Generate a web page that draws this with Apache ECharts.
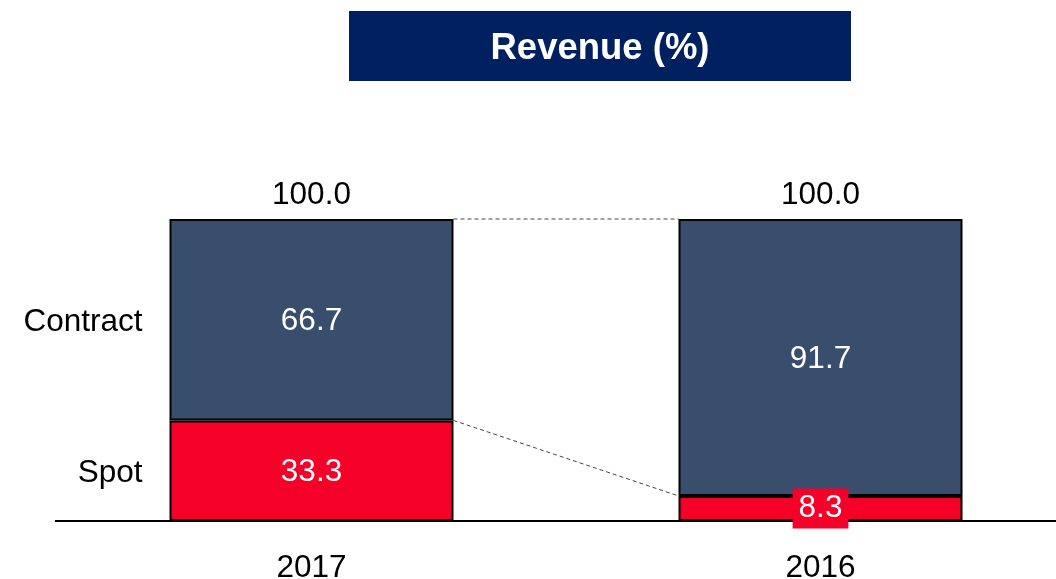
<!DOCTYPE html>
<html>
<head>
<meta charset="utf-8">
<script src="https://cdn.jsdelivr.net/npm/echarts@6/dist/echarts.min.js"></script>
<style>
html,body{margin:0;padding:0;background:#fff;}
#c{width:1056px;height:579px;}
</style>
</head>
<body>
<div id="c"></div>
<script>
const categories = ['2017', '2016'];
const spot = [33.3, 8.3];
const contract = [66.7, 91.7];
const totals = [100.0, 100.0];
const seriesNames = ['Spot', 'Contract'];
const titleText = 'Revenue (%)';

const FONT = "'Liberation Sans', Arial, sans-serif";
const FS = 31.5;
const BAR_W = 284;
const C_CONTRACT = '#394E6D';
const C_SPOT = '#F50028';

const connectors = [];
for (let i = 0; i < categories.length - 1; i++) {
  connectors.push([i, i + 1, totals[i], totals[i + 1]]);
  connectors.push([i, i + 1, spot[i], spot[i + 1]]);
}

const chart = echarts.init(document.getElementById('c'), null, {renderer: 'canvas'});
chart.setOption({
  animation: false,
  backgroundColor: '#ffffff',
  grid: {left: 311.5, right: 235.5, top: 219, bottom: 58, containLabel: false, outerBoundsMode: 'none'},
  xAxis: {
    type: 'category',
    data: categories,
    boundaryGap: false,
    axisLine: {show: false},
    axisTick: {show: false},
    splitLine: {show: false},
    axisLabel: {color: '#000', fontSize: FS, fontFamily: FONT, margin: 31}
  },
  yAxis: {type: 'value', min: 0, max: 100, show: false, splitLine: {show: false}},
  series: [
    {
      name: seriesNames[0], type: 'bar', stack: 'a', barWidth: BAR_W, barGap: '-100%',
      data: spot.map(v => (v < 15
        ? {value: v, label: {backgroundColor: C_SPOT, padding: [6, 6, 2, 6], offset: [0, 0]}}
        : v)),
      itemStyle: {color: C_SPOT, borderColor: '#000', borderWidth: 2},
      label: {
        show: true, position: 'inside', color: '#fff', fontSize: FS, fontFamily: FONT, offset: [0, 2],
        formatter: p => p.value.toFixed(1)
      },
      z: 3
    },
    {
      name: seriesNames[1], type: 'bar', stack: 'a', barWidth: BAR_W,
      data: contract,
      itemStyle: {color: C_CONTRACT, borderColor: '#000', borderWidth: 2},
      label: {
        show: true, position: 'inside', color: '#fff', fontSize: FS, fontFamily: FONT, offset: [0, 2],
        formatter: p => p.value.toFixed(1)
      },
      z: 3
    },
    {
      name: seriesNames[0] + '_lbl', type: 'bar', stack: 'b', barWidth: BAR_W,
      data: spot.map((v, i) => ({value: v, label: {show: i === 0}})),
      itemStyle: {color: 'rgba(0,0,0,0)', borderWidth: 0},
      label: {position: 'left', distance: 27, color: '#000', fontSize: FS, fontFamily: FONT, offset: [0, 3], formatter: () => seriesNames[0]},
      silent: true, z: 1
    },
    {
      name: seriesNames[1] + '_lbl', type: 'bar', stack: 'b', barWidth: BAR_W,
      data: contract.map((v, i) => ({value: v, label: {show: i === 0}})),
      itemStyle: {color: 'rgba(0,0,0,0)', borderWidth: 0},
      label: {position: 'left', distance: 27, color: '#000', fontSize: FS, fontFamily: FONT, offset: [0, 3], formatter: () => seriesNames[1]},
      silent: true, z: 1
    },
    {
      name: 'total', type: 'scatter', symbolSize: 0,
      data: totals,
      itemStyle: {color: '#000', opacity: 1},
      label: {show: true, position: 'top', distance: 8, color: '#000', fontSize: FS, fontFamily: FONT, formatter: p => p.value.toFixed(1)},
      z: 4
    },
    {
      name: 'connectors', type: 'custom',
      data: connectors,
      encode: {x: [0, 1], y: [2, 3]},
      renderItem: function (params, api) {
        const p1 = api.coord([api.value(0), api.value(2)]);
        const p2 = api.coord([api.value(1), api.value(3)]);
        return {
          type: 'line',
          shape: {x1: p1[0] + BAR_W / 2, y1: p1[1], x2: p2[0] - BAR_W / 2, y2: p2[1]},
          style: {stroke: '#444', lineWidth: 1, lineDash: [4, 3]}
        };
      },
      z: 2
    }
  ]
});
const baseY = chart.convertToPixel({gridIndex: 0}, [0, 0])[1];
chart.setOption({
  graphic: [
    {type: 'rect', shape: {x: 349, y: 11, width: 502, height: 70}, style: {fill: '#002060'}, z: 0},
    {type: 'text', x: 600, y: 49, style: {text: titleText, fill: '#fff', font: 'bold 36.5px ' + FONT, textAlign: 'center', textVerticalAlign: 'middle'}, z: 1},
    {type: 'line', shape: {x1: 55, y1: baseY, x2: 1056, y2: baseY}, style: {stroke: '#000', lineWidth: 2}, z: 0}
  ]
});
</script>
</body>
</html>
